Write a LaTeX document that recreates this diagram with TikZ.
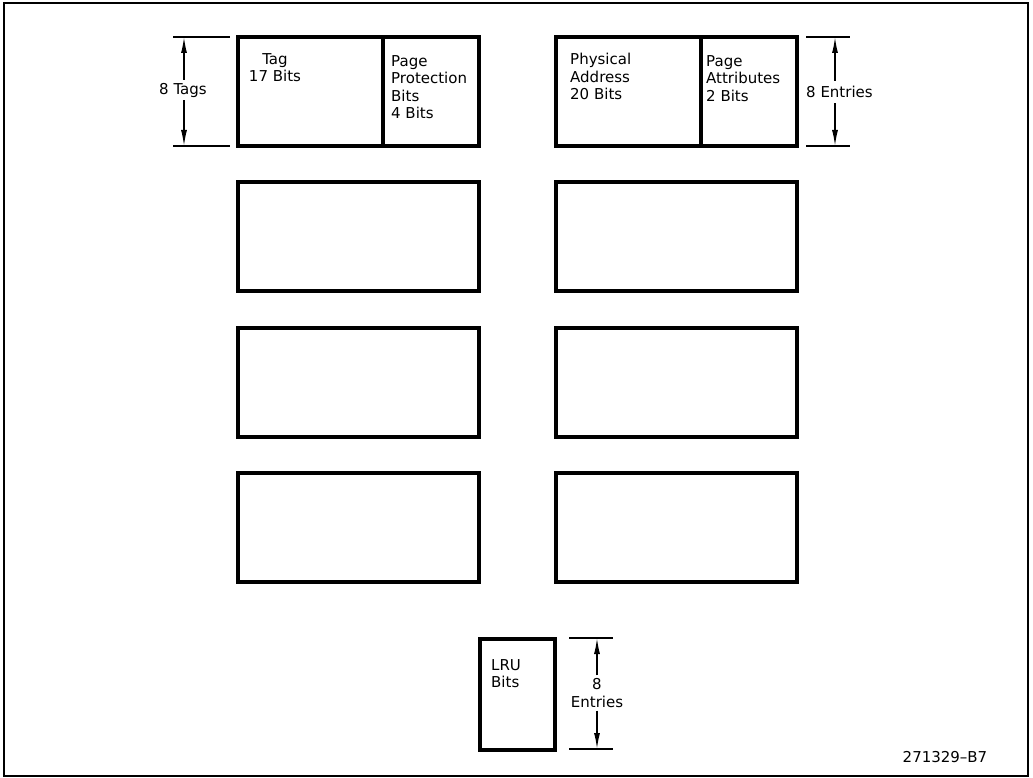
\documentclass[tikz,border=0pt]{standalone}
\usepackage{fontspec}
\setmainfont{DejaVu Sans}
\usetikzlibrary{arrows.meta, math}

\tikzset{
  cell/.style={draw, line width=4pt, anchor=north west, inner sep=0pt, outer sep=0pt, minimum height=109pt},
  txt/.style={font=\fontsize{15}{17.5}\selectfont, inner sep=0pt, align=left},
  dimlabel/.style={font=\fontsize{15}{17.5}\selectfont, inner xsep=0pt, inner ysep=3pt, align=center},
  dimline/.style={line width=1.4pt},
  dimarrow/.style={line width=1.4pt, -{Latex[length=16pt,width=6pt]}},
  frame/.style={line width=1.2pt}
}

\begin{document}
\begin{tikzpicture}[x=1pt,y=-1pt]
\tikzmath{
\dy=145.33;
}
\useasboundingbox (0,0) rectangle (1033,778);
\draw[frame] (4,3) rectangle (1028,776);

% first row: tag and data entries
\node[cell, minimum width=145pt] (tag) at (237.5,37) {};
\node[cell, minimum width=96pt] (prot) at (tag.north east) {};
\node[cell, minimum width=145pt] (phys) at (555.5,37) {};
\node[cell, minimum width=96pt] (attr) at (phys.north east) {};

\node[txt, align=center, anchor=north] (tagtxt) at (275,53) {Tag\\17 Bits};
\node[txt, anchor=north west] (prottxt) at (391,55) {Page\\Protection\\Bits\\4 Bits};
\node[txt, anchor=north west] (phystxt) at (570,53) {Physical\\Address\\20 Bits};
\node[txt, anchor=north west] (attrtxt) at (706,55) {Page\\Attributes\\2 Bits};

% the other three rows
\foreach \r in {1,2,3} {
  \node[cell, minimum width=241pt] (tagrow\r) at (237.5,37+\dy*\r) {};
  \node[cell, minimum width=241pt] (datarow\r) at (555.5,37+\dy*\r) {};
}

% LRU bits
\node[cell, minimum width=75pt, minimum height=111pt] (lru) at (480,639) {};
\node[txt, anchor=north west] (lrutxt) at (491,659) {LRU\\Bits};

% dimension: 8 Tags
\coordinate (tagsT) at (184,37);
\coordinate (tagsB) at (184,146);
\draw[dimline] (173,37) -- (230,37);
\draw[dimline] (173,146) -- (230,146);
\node[dimlabel] (tags) at (183,90) {8 Tags};
\draw[dimarrow] (tagsT |- tags.north) -- (tagsT);
\draw[dimarrow] (tagsB |- tags.south) -- (tagsB);

% dimension: 8 Entries
\coordinate (entT) at (835,37);
\coordinate (entB) at (835,146);
\draw[dimline] (806,37) -- (850,37);
\draw[dimline] (806,146) -- (850,146);
\node[dimlabel, inner ysep=5pt, anchor=west] (ent) at (806,92) {8 Entries};
\draw[dimarrow] (entT |- ent.north) -- (entT);
\draw[dimarrow] (entB |- ent.south) -- (entB);

% dimension: LRU entries
\coordinate (lruT) at (597,638);
\coordinate (lruB) at (597,749);
\draw[dimline] (569,638) -- (613,638);
\draw[dimline] (569,749) -- (613,749);
\node[dimlabel] (lruent) at (597,693) {8\\Entries};
\draw[dimarrow] (lruT |- lruent.north) -- (lruT);
\draw[dimarrow] (lruB |- lruent.south) -- (lruB);

\node[txt] (figno) at (945,757) {271329--B7};

\end{tikzpicture}
\end{document}
